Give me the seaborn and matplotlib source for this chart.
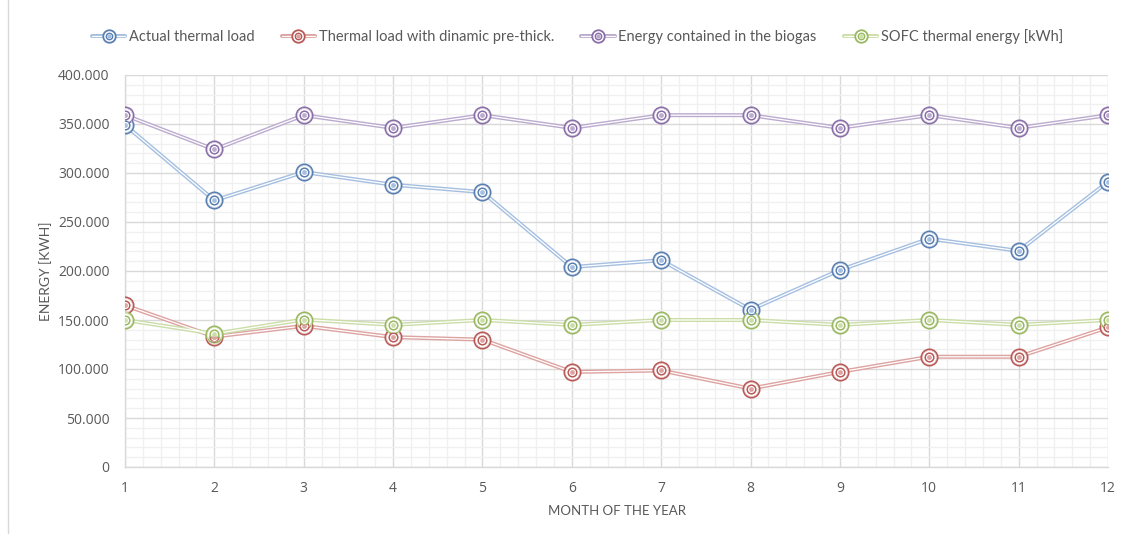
import numpy as np
import pandas as pd
import matplotlib
matplotlib.use("Agg")
import matplotlib.pyplot as plt
import seaborn as sns
from matplotlib.lines import Line2D
from matplotlib.legend_handler import HandlerTuple
from matplotlib.ticker import MultipleLocator, FuncFormatter

# ---- data ----
months = [1, 2, 3, 4, 5, 6, 7, 8, 9, 10, 11, 12]
actual_load = [349000, 272000, 301000, 288000, 280500, 204000, 211000, 160500, 201000, 233000, 220500, 291000]
pre_thick_load = [165000, 133000, 144000, 132500, 130000, 97000, 98500, 80000, 97000, 112500, 112500, 142500]
biogas_energy = [359000, 324000, 359000, 346000, 359000, 346000, 359000, 359000, 346000, 359000, 346000, 359000]
sofc_energy = [150000, 136000, 150500, 145000, 150000, 145000, 150000, 150000, 145000, 150000, 145000, 150000]

series_names = ["Actual thermal load", "Thermal load with dinamic pre-thick.",
                "Energy contained in the biogas", "SOFC thermal energy [kWh]"]
series_values = [actual_load, pre_thick_load, biogas_energy, sofc_energy]
line_colors = ["#A5BFE0", "#DDA3A1", "#BBABCF", "#CBDDA8"]
marker_colors = ["#5A80B2", "#B85A57", "#8A6FA8", "#9AB862"]

df = pd.DataFrame({
    "month": np.tile(months, len(series_names)),
    "value": np.concatenate(series_values),
    "series": np.repeat(series_names, len(months)),
})

sns.set_theme(style="white")
plt.rcParams["font.family"] = ["Lato", "DejaVu Sans"]
text_color = "#595959"
tick_font = ["Open Sans", "DejaVu Sans"]

fig = plt.figure(figsize=(11.36, 5.34), dpi=100)
ax = fig.add_axes([125 / 1136, 67 / 534, (1108 - 125) / 1136, (467 - 75) / 534])

# grid
ax.set_axisbelow(True)
ax.xaxis.set_major_locator(MultipleLocator(1))
ax.xaxis.set_minor_locator(MultipleLocator(0.2))
ax.yaxis.set_major_locator(MultipleLocator(50000))
ax.yaxis.set_minor_locator(MultipleLocator(10000))
ax.grid(which="minor", color="#F0F0F0", linewidth=1.0)
ax.grid(which="major", color="#D9D9D9", linewidth=1.0)

# lines (double-line look)
sns.lineplot(data=df, x="month", y="value", hue="series", hue_order=series_names,
             palette=line_colors, linewidth=2.9, legend=False, ax=ax, zorder=3)
for vals in series_values:
    ax.plot(months, vals, color="white", linewidth=0.9, zorder=4)

# markers (double circle with dot)
def draw_markers(vals, mc, lc):
    ax.plot(months, vals, linestyle="none", marker="o", markersize=11.5,
            markerfacecolor="white", markeredgecolor=mc, markeredgewidth=1.5, zorder=5)
    ax.plot(months, vals, linestyle="none", marker="o", markersize=10.4,
            markerfacecolor="none", markeredgecolor="#FFFFFF", markeredgewidth=0.35, alpha=0.8, zorder=6)
    ax.plot(months, vals, linestyle="none", marker="o", markersize=6.2,
            markerfacecolor="white", markeredgecolor=mc, markeredgewidth=1.1, zorder=6)
    ax.plot(months, vals, linestyle="none", marker="o", markersize=3.0,
            markerfacecolor=lc, markeredgecolor=lc, markeredgewidth=0.4, zorder=7)

for vals, mc, lc in zip(series_values, marker_colors, line_colors):
    draw_markers(vals, mc, lc)

ax.set_xlim(1, 12)
ax.set_ylim(0, 400000)
ax.set_xticks(months)
ax.yaxis.set_major_formatter(FuncFormatter(lambda v, p: "0" if v == 0 else f"{int(v):,}".replace(",", ".")))

for s in ["top", "right"]:
    ax.spines[s].set_visible(False)
for s in ["left", "bottom"]:
    ax.spines[s].set_color("#D9D9D9")
    ax.spines[s].set_linewidth(1.0)

ax.tick_params(axis="both", which="both", length=0, colors=text_color, labelsize=10)
ax.tick_params(axis="y", pad=11)
ax.tick_params(axis="x", pad=10)
for lbl in ax.get_xticklabels() + ax.get_yticklabels():
    lbl.set_fontfamily(tick_font)

ax.set_xlabel("MONTH OF THE YEAR", color=text_color, fontsize=9.5)
ax.set_ylabel("ENERGY [KWH]", color=text_color, fontsize=10)
ax.xaxis.set_label_coords(0.5, -0.098)
ax.yaxis.set_label_coords(-0.074, 0.5)

# legend
handles = []
for mc, lc in zip(marker_colors, line_colors):
    h = (Line2D([], [], color=lc, linewidth=2.9),
         Line2D([], [], color="white", linewidth=0.9),
         Line2D([], [], linestyle="none", marker="o", markersize=9,
                markerfacecolor="white", markeredgecolor=mc, markeredgewidth=1.3),
         Line2D([], [], linestyle="none", marker="o", markersize=4.6,
                markerfacecolor="white", markeredgecolor=mc, markeredgewidth=1.0),
         Line2D([], [], linestyle="none", marker="o", markersize=2.2,
                markerfacecolor=lc, markeredgecolor=lc))
    handles.append(h)
leg = fig.legend(handles, series_names, loc="center", bbox_to_anchor=(0.5084, 0.932),
                 ncol=4, frameon=False, fontsize=10.5, handlelength=2.3,
                 handletextpad=0.25, columnspacing=1.85,
                 handler_map={tuple: HandlerTuple(ndivide=1, pad=0)})
for t in leg.get_texts():
    t.set_color(text_color)

# chart-area border at left
fig.add_artist(Line2D([8 / 1136, 8 / 1136], [0, 1], transform=fig.transFigure,
                      color="#D9D9D9", linewidth=1.0))

fig.savefig("out.png", dpi=100)
